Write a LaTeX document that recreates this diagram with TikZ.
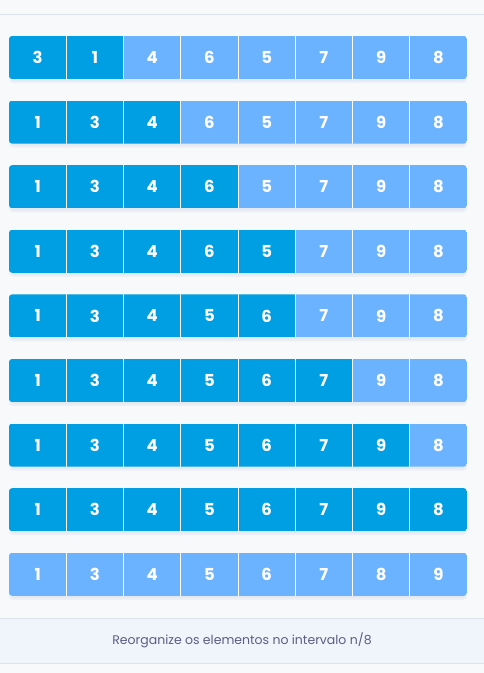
\documentclass[tikz,border=0pt]{standalone}
\usepackage{fontspec}
\setmainfont{Poppins}
\definecolor{bgc}{HTML}{F8F9FB}
\definecolor{linec}{HTML}{DCE2EC}
\definecolor{panelc}{HTML}{F0F4FB}
\definecolor{darkc}{HTML}{009FE3}
\definecolor{lightc}{HTML}{6BB3FF}
\definecolor{txtc}{HTML}{5B5F82}
\definecolor{shadc}{HTML}{E4E9F2}
\tikzset{
  cell/.style={minimum width=57.25pt, minimum height=43pt, inner sep=0pt, outer sep=0pt,
    text=white, font=\fontsize{16.5}{16.5}\selectfont\bfseries},
  divider/.style={white, line width=0.8pt},
  caption/.style={text=txtc, font=\fontsize{12.5}{14}\selectfont}
}
\begin{document}
\begin{tikzpicture}[x=1pt,y=1pt]
\fill[bgc] (0,0) rectangle (484,673);
\useasboundingbox (0,0) rectangle (484,673);
\draw[linec, line width=0.8pt] (0,659) -- (484,659);
\fill[panelc] (0,10) rectangle (484,55);
\draw[linec, line width=0.8pt] (0,55) -- (484,55);
\draw[linec, line width=0.8pt] (0,10) -- (484,10);
\node[caption] (cap) at (242,33) {Reorganize os elementos no intervalo n/8};
\foreach \vals/\nd [count=\r] in {
  {3,1,4,6,5,7,9,8}/2,
  {1,3,4,6,5,7,9,8}/3,
  {1,3,4,6,5,7,9,8}/4,
  {1,3,4,6,5,7,9,8}/5,
  {1,3,4,5,6,7,9,8}/5,
  {1,3,4,5,6,7,9,8}/6,
  {1,3,4,5,6,7,9,8}/7,
  {1,3,4,5,6,7,9,8}/8,
  {1,3,4,5,6,7,8,9}/0}{
  \pgfmathsetmacro\yt{673-36-(\r-1)*64.6}
  \pgfmathsetmacro\yb{\yt-43}
  \pgfmathsetmacro\yc{\yt-21.5}
  \fill[shadc, opacity=0.6, rounded corners=4pt] (9,\yb-4) rectangle (467,\yt-4);
  \fill[shadc, rounded corners=3pt] (11,\yb-2) rectangle (465,\yt-2);
  \begin{scope}
    \clip[rounded corners=3pt] (9,\yb) rectangle (467,\yt);
    \foreach \v [count=\i] in \vals {
      \ifnum\i>\nd\relax \def\cc{lightc}\else\def\cc{darkc}\fi
      \node[cell, fill=\cc] (c\r-\i) at ({9+(\i-1)*57.25+28.625},\yc) {\v};
    }
    \foreach \i in {1,...,7} {
      \draw[divider] (c\r-\i.north east) -- (c\r-\i.south east);
    }
  \end{scope}
}
\end{tikzpicture}
\end{document}
